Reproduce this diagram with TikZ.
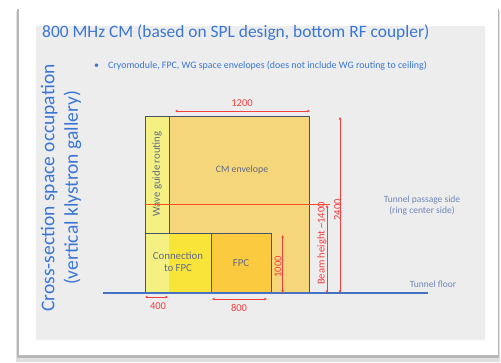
\documentclass[tikz,border=0pt]{standalone}
\usepackage{fontspec}
\setmainfont{Carlito}
\usetikzlibrary{arrows.meta}
\definecolor{titleblue}{RGB}{58,118,214}
\definecolor{panel}{RGB}{237,237,237}
\definecolor{cmfill}{RGB}{246,214,122}
\definecolor{wgfill}{RGB}{244,241,130}
\definecolor{connfill}{RGB}{249,228,58}
\definecolor{fpcfill}{RGB}{251,202,62}
\definecolor{boxline}{RGB}{68,84,106}
\definecolor{boxtxt}{RGB}{96,108,136}
\definecolor{sidetxt}{RGB}{112,134,186}
\definecolor{dimred}{RGB}{244,62,62}
\definecolor{beamred}{RGB}{255,80,40}
\definecolor{floorblue}{RGB}{68,114,196}
\begin{document}
\begin{tikzpicture}[x=1pt,y=-1pt,
  box/.style={draw=boxline, line width=0.8pt, inner sep=0pt, outer sep=0pt},
  dim/.style={draw=dimred, line width=0.6pt, {Stealth[length=3pt,width=2.6pt]}-{Stealth[length=3pt,width=2.6pt]}},
  dimlabel/.style={text=dimred, font=\fontsize{10.5}{12}\selectfont, inner sep=0pt},
  boxtext/.style={text=boxtxt, font=\fontsize{10.8}{12.5}\selectfont, align=center, inner sep=0pt},
  sidetext/.style={text=sidetxt, font=\fontsize{9.5}{11}\selectfont, align=center, inner sep=0pt},
  bluetext/.style={text=titleblue, inner sep=0pt},
]
\useasboundingbox (0,0) rectangle (501,363);
\fill[white] (0,0) rectangle (501,363);
% card shadow and card
\fill[black!12] (16,11) rectangle (500,362);
\fill[black!28] (16.5,9) rectangle (499,358.5);
\fill[white] (19,7) rectangle (498,355);
\fill[panel] (36,26) rectangle (485,340);

% title and bullet
\node[bluetext, anchor=base west, font=\fontsize{17.4}{20}\selectfont] (title) at (42,38) {800 MHz CM (based on SPL design, bottom RF coupler)};
\node[bluetext, anchor=base west, font=\fontsize{9.9}{11}\selectfont] (bullet) at (94,69) {•};
\node[bluetext, anchor=base west, font=\fontsize{9.9}{11}\selectfont] (bullettext) at (108,69) {Cryomodule, FPC, WG space envelopes (does not include WG routing to ceiling)};

% vertical side title
\node[bluetext, rotate=90, align=center, font=\fontsize{19.5}{23.5}\selectfont] (sidetitle) at (61,188) {Cross-section space occupation\\(vertical klystron gallery)};

% boxes
\node[box, fill=cmfill, minimum width=140pt, minimum height=177pt] (cm) at (239,204.5) {};
\node[box, fill=wgfill, minimum width=24pt, minimum height=117pt] (wg) at (157,174.5) {};
\node[inner sep=0pt, outer sep=0pt, fill=connfill, minimum width=66pt, minimum height=60pt] (conn) at (178,263) {};
\fill[wgfill] (conn.north west) rectangle (wg.east |- conn.south);
\draw[boxline, line width=0.8pt] (conn.north west) rectangle (conn.south east);
\node[box, fill=fpcfill, minimum width=60pt, minimum height=60pt] (fpc) at (241,263) {};

% box texts
\node[boxtext, font=\fontsize{9.8}{11}\selectfont] (cmtext) at (242,170) {CM envelope};
\node[boxtext, rotate=90] (wgtext) at (157,174) {Wave guide routing};
\node[boxtext] (conntext) at (178,262) {Connection\\to FPC};
\node[boxtext] (fpctext) at (241,263) {FPC};

% beam height line
\coordinate (beamR) at (330,205);
\draw[draw=beamred, line width=1pt] (wg.west |- beamR) -- (beamR);

% floor
\coordinate (floorL) at (103,293);
\coordinate (floorR) at (428,293);
\draw[floorblue, line width=1.3pt] (floorL) -- (floorR);

% dimensions
\coordinate (d1200a) at (175,111);
\coordinate (d1200b) at (310,111);
\draw[dim] (d1200a) -- (d1200b);
\node[dimlabel] (l1200) at (242,103) {1200};

\coordinate (d2400a) at (340,117);
\coordinate (d2400b) at (340,293);
\draw[dim] (d2400a) -- (d2400b);
\node[dimlabel, rotate=90] (l2400) at (337.5,210) {2400};

\coordinate (d1400a) at (327,205);
\coordinate (d1400b) at (327,293);
\draw[dim] (d1400a) -- (d1400b);
\node[dimlabel, rotate=90] (l1400) at (322,243.5) {Beam height \textasciitilde1400};

\coordinate (d1000a) at (282.7,235);
\coordinate (d1000b) at (282.7,293);
\draw[dim] (d1000a) -- (d1000b);
\node[dimlabel, rotate=90] (l1000) at (278,267) {1000};

\coordinate (d400a) at (145,297);
\coordinate (d400b) at (168,297);
\draw[dim] (d400a) -- (d400b);
\node[dimlabel] (l400) at (158,306) {400};

\coordinate (d800a) at (212,299);
\coordinate (d800b) at (267,299);
\draw[dim] (d800a) -- (d800b);
\node[dimlabel] (l800) at (239,308) {800};

% side texts
\node[sidetext] (passage) at (422,205.5) {Tunnel passage side\\(ring center side)};
\node[sidetext] (floortext) at (433,284) {Tunnel floor};
\end{tikzpicture}
\end{document}
